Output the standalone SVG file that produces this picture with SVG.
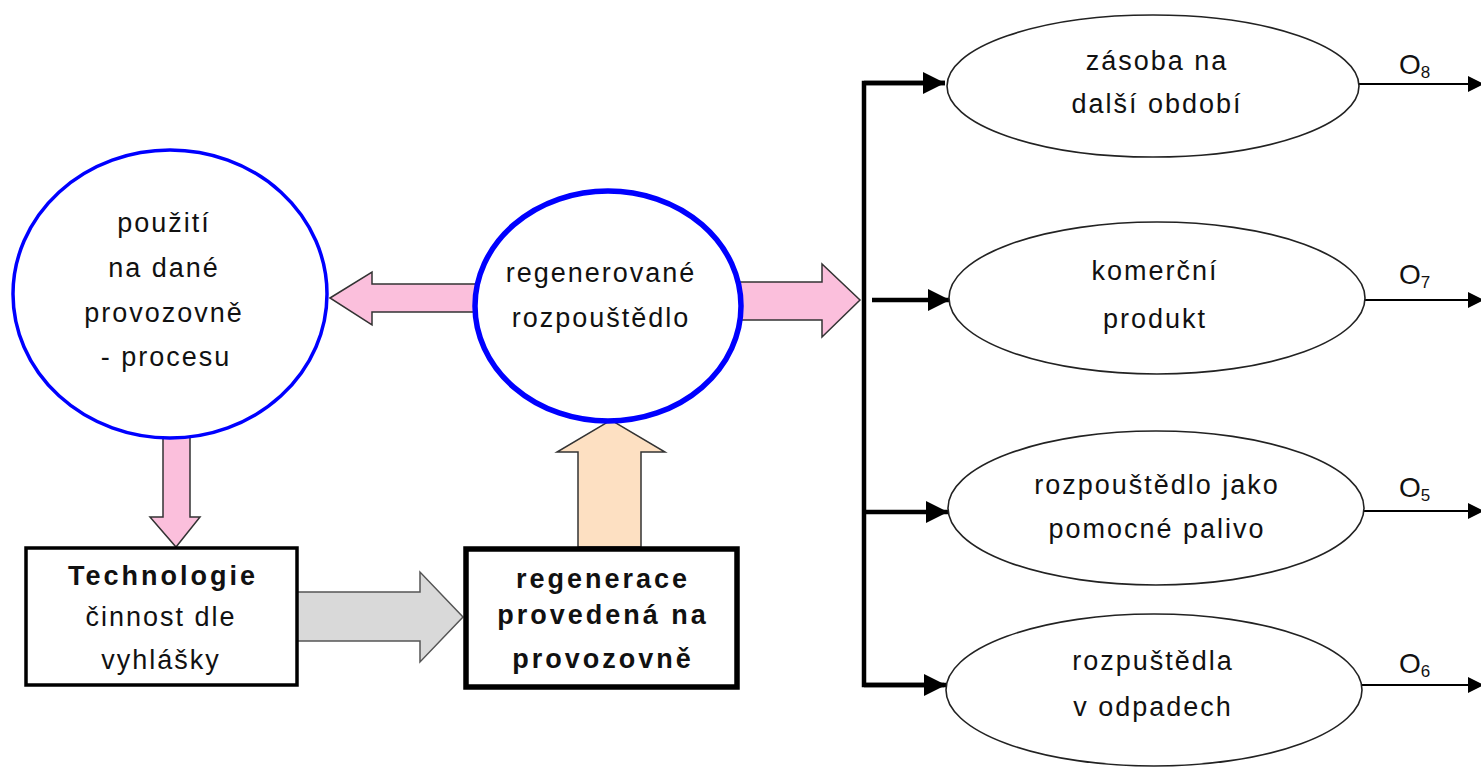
<svg xmlns="http://www.w3.org/2000/svg" width="1481" height="767" viewBox="0 0 1481 767">
<style>
text{font-family:"Liberation Sans",Arial,sans-serif;font-size:27px;fill:#111;text-anchor:middle;letter-spacing:2px}
.b{font-weight:bold;letter-spacing:3px}
.lbl{text-anchor:start;font-size:28px;letter-spacing:0}
.sub{font-size:17px}
.pink{fill:#fbbfdc;stroke:#333;stroke-width:1.5}
.gray{fill:#d9d9d9;stroke:#555;stroke-width:1.5}
.peach{fill:#fde0c2;stroke:#333;stroke-width:1.5}
.circ{fill:#fff;stroke:#0000ff}
.ell{fill:#fff;stroke:#222;stroke-width:1.6}
.box{fill:#fff;stroke:#000}
.thick{stroke:#000;stroke-width:4.5;fill:none}
.thin{stroke:#000;stroke-width:2;fill:none}
</style>
<defs>
<marker id="ah" markerUnits="userSpaceOnUse" markerWidth="24" markerHeight="22" refX="22" refY="11" orient="auto"><path d="M0,0 L22,11 L0,22 Z" fill="#000"/></marker>
<marker id="ahs" markerUnits="userSpaceOnUse" markerWidth="18" markerHeight="16" refX="16" refY="8" orient="auto"><path d="M0,0 L16,8 L0,16 Z" fill="#000"/></marker>
</defs>
<g id="connectors">
<polygon class="pink" points="330,298 372,272 372,284 490,284 490,312 372,312 372,325"/>
<polygon class="pink" points="730,282 822,282 822,264 860,300 822,337 822,320 730,320"/>
<polygon class="pink" points="163,430 190,430 190,517 200,517 176,547 150,517 163,517"/>
<polygon class="gray" points="297,592 420,592 420,572 463,617 420,662 420,641 297,641"/>
<polygon class="peach" points="578,547 578,452 557,452 611,420 665,452 641,452 641,547"/>
<path class="thick" d="M945,83 H864 V685 H944"/>
<path class="thick" d="M864,83 H945" marker-end="url(#ah)"/>
<path class="thick" d="M872,300 H950" marker-end="url(#ah)"/>
<path class="thick" d="M864,512 H948" marker-end="url(#ah)"/>
<path class="thick" d="M864,685 H946" marker-end="url(#ah)"/>
<path class="thin" d="M1359,84 H1484" marker-end="url(#ahs)"/>
<path class="thin" d="M1365,300 H1484" marker-end="url(#ahs)"/>
<path class="thin" d="M1364,511 H1484" marker-end="url(#ahs)"/>
<path class="thin" d="M1362,685 H1484" marker-end="url(#ahs)"/>
<text class="lbl" x="1399" y="74">O<tspan class="sub" dy="4">8</tspan></text>
<text class="lbl" x="1399" y="284">O<tspan class="sub" dy="4">7</tspan></text>
<text class="lbl" x="1399" y="497">O<tspan class="sub" dy="4">5</tspan></text>
<text class="lbl" x="1399" y="673">O<tspan class="sub" dy="4">6</tspan></text>
</g>
<g id="pouziti">
<ellipse class="circ" cx="170" cy="294" rx="157" ry="144" stroke-width="3.5"/>
<text x="164" y="232">použití</text>
<text x="164" y="277">na dané</text>
<text x="164" y="322">provozovně</text>
<text x="166" y="366">- procesu</text>
</g>
<g id="regenerovane">
<ellipse class="circ" cx="608" cy="306" rx="133" ry="115" stroke-width="5.5"/>
<text x="601" y="282">regenerované</text>
<text x="601" y="327">rozpouštědlo</text>
</g>
<g id="technologie">
<rect class="box" x="26" y="548" width="271" height="137" stroke-width="3.5"/>
<text class="b" x="163" y="585">Technologie</text>
<text x="161" y="626">činnost dle</text>
<text x="161" y="669">vyhlášky</text>
</g>
<g id="regenerace">
<rect class="box" x="466" y="549" width="271" height="138" stroke-width="5.5"/>
<text class="b" x="603" y="588">regenerace</text>
<text class="b" x="603" y="624">provedená na</text>
<text class="b" x="603" y="668">provozovně</text>
</g>
<g id="zasoba">
<ellipse class="ell" cx="1153" cy="86" rx="206" ry="71"/>
<text x="1157" y="70">zásoba na</text>
<text x="1157" y="113">další období</text>
</g>
<g id="komercni">
<ellipse class="ell" cx="1157" cy="298" rx="208" ry="76"/>
<text x="1155" y="280">komerční</text>
<text x="1155" y="328">produkt</text>
</g>
<g id="palivo">
<ellipse class="ell" cx="1156" cy="508" rx="208" ry="77"/>
<text x="1157" y="494">rozpouštědlo jako</text>
<text x="1157" y="538">pomocné palivo</text>
</g>
<g id="odpady">
<ellipse class="ell" cx="1154" cy="690" rx="208" ry="76"/>
<text x="1153" y="670">rozpuštědla</text>
<text x="1153" y="716">v odpadech</text>
</g>
</svg>
